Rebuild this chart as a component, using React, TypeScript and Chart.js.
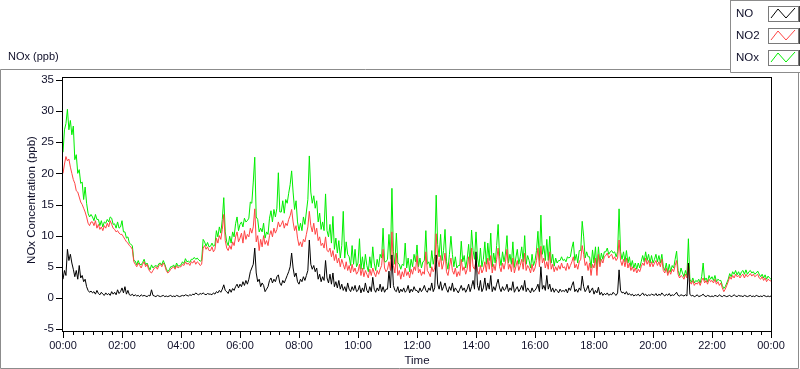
import React, { useEffect, useRef } from "react";
import { Chart, registerables } from "chart.js";

Chart.register(...registerables);

// 3-minute samples, 00:00 .. 24:00 (20 per hour)
const stepMinutes = 3;

const NO_ppb = [
  3.0, 4.4, 3.6, 7.8, 6.0, 7.0, 5.6, 4.6, 3.4, 4.4, 3.0, 5.2, 3.2, 3.6, 2.6, 3.0, 1.8, 1.2, 0.9, 1.1,
  0.8, 1.0, 0.6, 1.2, 0.7, 0.5, 0.9, 0.6, 0.4, 0.8, 0.5, 0.7, 0.4, 1.0, 0.6, 0.9, 0.5, 1.3, 0.7, 1.0,
  1.6, 0.8, 1.8, 0.6, 1.2, 0.5, 0.4, 0.6, 0.3, 0.5, 0.3, 0.4, 0.2, 0.5, 0.3, 0.4, 0.3, 0.2, 0.4, 0.3,
  1.3, 0.4, 0.3, 0.2, 0.4, 0.3, 0.2, 0.3, 0.4, 0.2, 0.3, 0.2, 0.3, 0.4, 0.2, 0.3, 0.2, 0.4, 0.3, 0.2,
  0.3, 0.4, 0.3, 0.5, 0.4, 0.3, 0.5, 0.4, 0.6, 0.5, 0.8, 0.6, 0.5, 0.7, 0.6, 0.8, 0.6, 0.5, 0.7, 0.6,
  0.6, 0.5, 0.8, 0.6, 1.0, 0.8, 1.2, 0.9, 1.4, 2.1, 1.2, 1.0, 0.7, 1.4, 0.9, 1.5, 1.2, 1.8, 2.2, 1.6,
  2.2, 1.8, 2.6, 2.0, 2.8, 2.2, 3.0, 4.2, 4.8, 5.4, 8.0, 4.0, 2.6, 3.0, 1.8, 2.4, 2.0, 1.0, 1.4, 1.8,
  2.8, 3.2, 2.4, 3.0, 2.6, 3.4, 3.7, 2.4, 2.0, 2.8, 2.4, 3.0, 3.6, 4.2, 5.0, 7.2, 4.8, 3.4, 4.0, 2.6,
  2.2, 3.0, 2.6, 3.4, 2.8, 3.6, 4.4, 9.3, 5.4, 4.6, 5.2, 4.2, 4.8, 3.0, 3.8, 2.6, 3.4, 2.8, 6.0, 3.2,
  2.4, 3.8, 2.2, 4.0, 1.8, 2.6, 1.6, 2.8, 1.4, 2.2, 1.2, 1.8, 1.0, 2.4, 1.4, 1.0, 1.8, 1.2, 2.0, 1.0,
  1.2, 2.0, 0.8, 1.6, 1.0, 2.4, 1.2, 0.8, 1.8, 1.0, 3.3, 1.4, 0.9, 1.6, 1.1, 2.2, 1.0, 1.8, 0.9, 1.4,
  1.4, 4.3, 1.6, 6.9, 2.0, 1.2, 1.0, 1.8, 0.8, 1.4, 1.0, 1.6, 0.9, 1.2, 2.0, 0.8, 1.4, 1.0, 1.8, 1.2,
  1.2, 0.8, 1.6, 1.0, 1.4, 2.0, 1.2, 0.9, 1.6, 1.2, 2.4, 1.0, 1.6, 6.9, 2.2, 1.4, 2.6, 1.2, 1.8, 2.4,
  1.4, 0.9, 1.8, 1.2, 2.4, 1.0, 1.6, 1.2, 0.8, 1.4, 2.0, 1.2, 1.6, 0.9, 1.4, 2.2, 1.0, 1.8, 2.8, 1.4,
  7.4, 2.0, 1.2, 2.8, 1.0, 1.6, 3.2, 1.2, 2.4, 1.4, 3.6, 1.0, 1.8, 1.2, 2.2, 3.0, 1.6, 1.0, 1.8, 1.2,
  1.4, 2.2, 1.0, 1.6, 1.2, 2.6, 0.9, 1.4, 1.8, 1.0, 1.4, 2.0, 1.2, 2.8, 1.0, 1.6, 1.2, 0.8, 1.6, 1.0,
  1.2, 1.6, 2.2, 1.0, 5.0, 1.4, 2.0, 1.2, 3.6, 1.4, 2.2, 1.0, 1.6, 0.9, 1.4, 1.2, 0.8, 1.4, 1.0, 1.2,
  1.0, 1.4, 0.8, 1.6, 1.2, 2.0, 2.6, 1.0, 1.4, 0.9, 1.6, 1.2, 3.5, 1.8, 1.0, 1.4, 2.0, 0.8, 1.2, 1.6,
  0.6, 1.2, 0.8, 1.7, 0.5, 0.9, 0.4, 0.7, 0.5, 0.8, 0.4, 0.6, 0.5, 0.9, 0.6, 0.4, 0.8, 4.5, 1.2, 0.8,
  0.9, 0.6, 1.0, 0.5, 0.7, 0.4, 0.6, 0.3, 0.5, 0.4, 0.6, 0.3, 0.5, 0.8, 0.4, 0.6, 0.3, 0.5, 0.4, 0.6,
  0.5, 0.4, 0.7, 0.3, 0.6, 0.4, 0.8, 0.5, 0.3, 0.6, 0.4, 0.7, 0.3, 0.5, 0.4, 0.6, 0.9, 0.4, 0.3, 0.5,
  0.4, 0.3, 0.5, 0.3, 5.6, 0.6, 0.3, 0.4, 0.2, 0.3, 0.5, 0.2, 0.3, 0.4, 0.6, 0.3, 0.2, 0.4, 0.3, 0.2,
  0.3, 0.2, 0.4, 0.3, 0.2, 0.5, 0.3, 0.2, 0.4, 0.3, 0.2, 0.3, 0.4, 0.2, 0.3, 0.5, 0.3, 0.2, 0.4, 0.3,
  0.3, 0.2, 0.4, 0.3, 0.2, 0.3, 0.4, 0.2, 0.3, 0.2, 0.4, 0.3, 0.2, 0.3, 0.2, 0.4, 0.3, 0.2, 0.3, 0.2, 0.3,
];

const NO2_ppb = [
  20.0, 21.5, 22.7, 22.0, 22.3, 21.0, 20.0, 19.0, 18.4, 17.2, 17.0, 16.2, 15.4, 15.0, 14.4, 13.8, 13.0, 12.0, 11.6, 12.2,
  12.2, 11.6, 12.4, 11.2, 11.8, 11.0, 11.4, 10.8, 11.6, 11.2, 12.0, 11.4, 12.4, 11.8, 11.2, 11.0, 10.6, 10.8, 10.4, 10.2,
  10.2, 9.8, 9.4, 9.0, 8.8, 8.4, 8.2, 7.8, 5.8, 5.4, 5.0, 5.6, 5.2, 4.8, 5.4, 5.8, 5.0, 5.4, 4.6, 4.2,
  4.0, 4.4, 4.8, 5.0, 4.6, 5.2, 5.4, 5.0, 5.6, 5.2, 4.4, 4.0, 4.2, 4.6, 4.8, 5.0, 4.6, 5.2, 4.8, 5.0,
  5.0, 5.4, 5.2, 5.8, 5.4, 5.6, 5.2, 5.8, 5.6, 6.0, 5.4, 5.8, 5.6, 5.2, 5.4, 8.0, 8.4, 7.8, 8.2, 7.6,
  7.6, 8.2, 7.4, 7.8, 9.6, 8.8, 10.0, 9.4, 11.0, 13.4, 9.2, 8.0, 7.6, 8.4, 7.8, 9.0, 8.4, 9.8, 10.6, 9.0,
  9.6, 10.4, 8.8, 10.8, 9.4, 10.2, 9.8, 11.2, 10.4, 11.4, 14.3, 9.0, 10.0, 7.6, 9.4, 8.2, 10.0, 8.6, 9.2, 8.4,
  10.0, 10.8, 9.8, 11.2, 10.4, 11.0, 12.2, 11.4, 11.8, 12.4, 11.2, 12.0, 11.6, 12.6, 13.2, 14.2, 12.2, 10.8, 11.6, 9.6,
  8.4, 9.0, 8.2, 9.4, 9.0, 10.2, 11.4, 13.9, 11.6, 10.6, 12.0, 10.2, 11.2, 9.2, 9.8, 8.4, 8.8, 8.0, 9.8, 7.6,
  7.4, 8.0, 6.6, 7.6, 6.0, 7.0, 5.6, 6.4, 5.0, 6.2, 5.4, 4.6, 5.8, 4.4, 5.2, 4.0, 5.4, 4.2, 4.8, 3.8,
  4.2, 5.4, 3.6, 4.8, 3.4, 4.4, 3.8, 3.2, 4.6, 3.6, 4.8, 4.0, 3.4, 4.4, 3.8, 4.6, 5.2, 7.8, 4.8, 4.2,
  4.6, 5.8, 4.4, 10.6, 5.2, 4.0, 7.2, 3.6, 4.4, 3.0, 4.2, 3.4, 4.8, 3.6, 4.2, 3.2, 4.6, 3.8, 5.0, 4.4,
  6.8, 4.0, 4.6, 3.6, 4.2, 3.8, 7.4, 4.4, 4.0, 3.4, 5.0, 4.2, 4.8, 10.3, 6.2, 5.0, 6.8, 4.6, 5.6, 7.2,
  4.2, 3.6, 5.0, 6.4, 4.4, 3.8, 4.8, 3.4, 4.2, 3.6, 6.2, 4.4, 5.0, 3.8, 4.6, 6.6, 4.2, 8.0, 5.0, 4.6,
  6.0, 4.4, 3.8, 5.2, 4.0, 4.6, 5.8, 4.2, 6.4, 4.6, 6.8, 4.0, 5.4, 4.4, 6.2, 8.0, 5.0, 4.2, 5.6, 4.6,
  5.8, 7.8, 4.6, 5.4, 4.2, 6.4, 4.0, 5.0, 6.0, 4.4, 5.2, 6.2, 4.6, 7.2, 4.4, 5.2, 4.8, 4.0, 5.4, 4.2,
  4.8, 6.0, 8.0, 5.0, 8.3, 5.6, 6.4, 4.8, 5.8, 4.6, 7.4, 4.6, 5.4, 4.2, 5.0, 4.4, 5.2, 4.6, 5.6, 4.8,
  5.0, 4.4, 5.6, 4.6, 5.2, 5.8, 6.6, 4.8, 5.4, 4.6, 5.8, 6.2, 8.4, 7.0, 5.2, 5.8, 4.4, 5.6, 3.6, 5.4,
  4.8, 6.4, 3.6, 7.0, 5.0, 6.2, 5.6, 6.6, 6.8, 7.2, 6.4, 6.8, 7.0, 6.2, 6.6, 6.0, 6.4, 9.3, 6.0, 5.2,
  6.2, 5.0, 6.4, 4.8, 5.6, 4.4, 5.0, 4.2, 4.8, 4.0, 4.6, 4.2, 5.0, 5.6, 5.2, 6.4, 5.4, 6.0, 5.0, 5.8,
  5.0, 5.6, 6.0, 5.2, 5.8, 5.0, 6.2, 4.4, 4.0, 4.8, 3.6, 4.4, 3.8, 4.6, 4.2, 5.2, 6.0, 3.8, 3.2, 3.6,
  3.4, 3.0, 3.8, 3.2, 5.6, 2.6, 2.2, 2.8, 2.0, 2.4, 2.2, 2.6, 2.0, 2.8, 3.2, 2.4, 2.8, 2.2, 3.0, 2.6,
  2.8, 2.4, 3.0, 2.2, 2.6, 2.0, 2.4, 1.6, 1.0, 1.4, 2.0, 2.6, 3.4, 3.0, 3.6, 3.2, 3.8, 3.4, 3.6, 3.2,
  3.6, 3.8, 3.2, 3.8, 3.4, 3.6, 3.9, 3.5, 3.8, 3.4, 3.6, 3.8, 3.2, 3.0, 3.4, 2.8, 3.2, 2.6, 3.0, 2.8, 2.7,
];

const NOx_ppb = [
  23.4, 27.0, 28.0, 30.3, 27.0, 28.5, 26.2, 27.6, 22.2, 23.0, 20.0, 20.6, 18.4, 18.6, 15.8, 17.8, 15.2, 13.6, 13.0, 13.4,
  13.0, 12.4, 13.4, 12.6, 12.6, 11.6, 12.4, 11.4, 12.2, 12.0, 12.6, 12.2, 13.0, 12.8, 11.8, 11.9, 11.2, 12.2, 11.2, 11.4,
  12.4, 10.6, 10.6, 9.6, 9.8, 8.8, 8.6, 8.4, 6.0, 5.9, 5.3, 6.0, 5.4, 5.3, 5.7, 6.2, 5.3, 5.6, 5.0, 4.5,
  5.3, 4.8, 5.1, 5.2, 5.0, 5.5, 5.6, 5.3, 6.0, 5.4, 4.7, 4.2, 4.5, 5.0, 5.0, 5.3, 4.8, 5.6, 5.1, 5.2,
  5.3, 5.8, 5.5, 6.3, 5.8, 5.9, 5.7, 6.2, 6.2, 6.5, 6.2, 6.4, 6.1, 5.9, 6.0, 9.4, 9.0, 8.3, 8.9, 8.2,
  8.3, 8.8, 8.3, 8.5, 10.8, 9.8, 11.4, 10.4, 12.6, 16.1, 10.6, 9.0, 8.4, 9.9, 8.8, 10.6, 9.8, 11.9, 13.0, 10.8,
  11.8, 12.2, 11.4, 12.8, 12.2, 12.4, 12.8, 15.4, 15.2, 18.6, 22.6, 13.0, 12.6, 10.6, 11.2, 10.6, 12.0, 9.6, 10.6, 10.2,
  12.8, 14.0, 12.2, 14.2, 13.0, 14.4, 20.1, 13.8, 13.8, 15.6, 13.6, 15.8, 15.2, 16.8, 18.2, 20.4, 17.0, 14.2, 15.6, 12.2,
  10.8, 12.0, 10.8, 13.0, 11.8, 13.8, 15.8, 22.8, 17.0, 15.2, 16.4, 14.4, 15.6, 12.2, 13.6, 11.0, 12.2, 10.8, 16.7, 10.8,
  9.8, 11.8, 8.8, 13.1, 7.8, 9.6, 7.2, 9.2, 6.4, 8.4, 13.9, 6.4, 9.0, 7.0, 6.6, 5.2, 8.4, 5.4, 7.8, 5.0,
  5.6, 9.5, 4.6, 6.6, 4.6, 7.0, 5.2, 4.2, 6.6, 4.8, 8.2, 5.6, 4.4, 6.2, 5.0, 7.0, 6.4, 11.2, 5.8, 5.8,
  6.2, 10.2, 6.2, 17.6, 7.4, 5.4, 10.4, 5.6, 5.4, 4.6, 5.4, 5.2, 8.8, 4.8, 6.4, 4.2, 6.2, 5.0, 7.0, 5.8,
  8.5, 5.0, 6.4, 4.8, 5.8, 6.0, 10.8, 5.4, 5.8, 4.8, 7.6, 5.4, 6.6, 16.5, 8.6, 6.6, 10.2, 6.0, 7.6, 11.0,
  5.8, 4.6, 7.0, 9.9, 7.0, 5.0, 6.6, 4.8, 5.2, 5.2, 9.1, 5.8, 6.8, 4.8, 6.2, 8.6, 5.4, 10.9, 7.6, 6.2,
  10.6, 6.4, 5.0, 8.0, 5.0, 6.2, 9.0, 5.4, 8.8, 6.0, 10.4, 5.0, 7.2, 5.6, 8.4, 11.8, 6.6, 5.2, 7.4, 5.8,
  7.2, 10.0, 5.6, 7.0, 5.4, 9.0, 4.9, 6.4, 7.8, 5.4, 6.6, 8.2, 5.8, 10.0, 5.4, 6.8, 6.0, 4.8, 7.0, 5.2,
  6.0, 7.6, 10.7, 6.0, 13.3, 7.0, 8.4, 6.0, 9.4, 6.0, 9.9, 5.6, 7.0, 5.1, 6.4, 5.6, 6.0, 6.0, 6.6, 6.0,
  6.2, 5.8, 6.6, 6.4, 6.6, 8.0, 9.0, 6.0, 7.0, 5.6, 7.6, 7.6, 12.3, 9.8, 6.4, 7.4, 6.6, 6.6, 4.8, 7.7,
  5.6, 8.2, 4.6, 8.2, 5.6, 7.2, 6.2, 7.4, 7.4, 8.0, 7.0, 7.4, 7.6, 7.2, 7.4, 6.6, 7.4, 14.3, 7.4, 6.2,
  7.4, 5.8, 7.6, 5.6, 6.6, 5.0, 6.0, 4.8, 5.6, 4.6, 5.6, 4.8, 5.8, 6.8, 5.8, 7.4, 6.0, 7.0, 5.6, 6.8,
  5.6, 6.2, 7.0, 5.8, 6.8, 5.6, 7.0, 5.0, 4.4, 5.6, 4.0, 5.4, 4.2, 5.2, 4.8, 6.2, 7.5, 4.4, 3.6, 4.8,
  4.0, 3.4, 4.4, 3.6, 9.5, 3.0, 2.5, 3.2, 2.4, 2.8, 2.6, 3.0, 2.4, 3.4, 5.6, 2.8, 3.2, 2.6, 3.6, 3.0,
  3.4, 2.8, 3.6, 2.6, 3.0, 2.8, 2.8, 2.0, 1.5, 1.8, 2.4, 3.0, 3.9, 3.4, 4.2, 3.8, 4.4, 3.7, 4.2, 3.6,
  4.2, 4.4, 3.8, 4.5, 3.8, 4.2, 4.4, 4.0, 4.2, 3.8, 4.0, 4.3, 3.8, 3.4, 3.8, 3.2, 3.7, 3.0, 3.5, 3.2, 3.0,
];

const seriesNames = ["NO", "NO2", "NOx"];
const seriesColors = ["#000000", "#ff4444", "#00ee00"];
const yTickValues = [-5, 0, 5, 10, 15, 20, 25, 30, 35];
const xMajorMinutes = [0, 120, 240, 360, 480, 600, 720, 840, 960, 1080, 1200, 1320, 1440];
const xTickLabels = ["00:00", "02:00", "04:00", "06:00", "08:00", "10:00", "12:00", "14:00", "16:00", "18:00", "20:00", "22:00", "00:00"];
const xMinorStepMinutes = 20;

const FONT = "'Liberation Sans', Arial, sans-serif";
const TEXT = "#10102a";

const toPoints = (arr: number[]) => arr.map((v, i) => ({ x: i * stepMinutes, y: v }));

const decorPlugin = {
  id: "labviewDecor",
  beforeDraw(chart: any) {
    const ctx = chart.ctx;
    ctx.save();
    ctx.fillStyle = "#ffffff";
    ctx.fillRect(0, 0, chart.width, chart.height);
    ctx.strokeStyle = "#8c8c8c";
    ctx.lineWidth = 1;
    ctx.beginPath();
    ctx.moveTo(0.5, 368.5);
    ctx.lineTo(0.5, 69.5);
    ctx.lineTo(730.5, 69.5);
    ctx.moveTo(798.5, 72.5);
    ctx.lineTo(798.5, 368.5);
    ctx.lineTo(0.5, 368.5);
    ctx.stroke();
    ctx.fillStyle = TEXT;
    ctx.font = `11px ${FONT}`;
    ctx.textAlign = "left";
    ctx.textBaseline = "middle";
    ctx.fillText("NOx (ppb)", 8, 57);
    ctx.restore();
  },
  afterDraw(chart: any) {
    const ctx = chart.ctx;
    const a = chart.chartArea;
    const xs = chart.scales.x;
    const ys = chart.scales.y;
    ctx.save();
    ctx.strokeStyle = "#000";
    ctx.lineWidth = 1;
    ctx.strokeRect(Math.round(a.left) - 0.5, Math.round(a.top) - 0.5, Math.round(a.right - a.left) + 1, Math.round(a.bottom - a.top) + 1);
    ctx.beginPath();
    yTickValues.forEach((v) => {
      const y = Math.round(ys.getPixelForValue(v)) + 0.5;
      ctx.moveTo(a.left - 7, y);
      ctx.lineTo(a.left, y);
    });
    for (let m = 0; m <= 1440; m += xMinorStepMinutes) {
      const x = Math.round(xs.getPixelForValue(m)) + 0.5;
      const len = m % 120 === 0 ? 7 : 4;
      ctx.moveTo(x, a.bottom);
      ctx.lineTo(x, a.bottom + len);
    }
    ctx.stroke();
    ctx.fillStyle = TEXT;
    ctx.font = `11.5px ${FONT}`;
    ctx.textAlign = "center";
    ctx.textBaseline = "middle";
    ctx.fillText("Time", (a.left + a.right) / 2, 361);
    ctx.save();
    ctx.translate(32, 200);
    ctx.rotate(-Math.PI / 2);
    ctx.fillText("NOx Concentration (ppb)", 0, 0);
    ctx.restore();
    // legend
    ctx.fillStyle = "#ffffff";
    ctx.fillRect(731, 0, 69, 72);
    ctx.strokeStyle = "#8c8c8c";
    ctx.beginPath();
    ctx.moveTo(730.5, 0);
    ctx.lineTo(730.5, 72.5);
    ctx.lineTo(800, 72.5);
    ctx.moveTo(730.5, 0.5);
    ctx.lineTo(800, 0.5);
    ctx.stroke();
    const rowTop = [6, 28, 50];
    seriesNames.forEach((name, i) => {
      const top = rowTop[i];
      ctx.fillStyle = TEXT;
      ctx.font = `11.5px ${FONT}`;
      ctx.textAlign = "left";
      ctx.textBaseline = "middle";
      ctx.fillText(name, 736, top + 8);
      ctx.strokeStyle = "#7a7a7a";
      ctx.strokeRect(768.5, top + 0.5, 30, 15);
      ctx.strokeStyle = "#404040";
      ctx.beginPath();
      ctx.moveTo(799.5, top);
      ctx.lineTo(799.5, top + 16);
      ctx.stroke();
      ctx.strokeStyle = seriesColors[i];
      ctx.beginPath();
      ctx.moveTo(771, top + 12);
      ctx.lineTo(778, top + 3);
      ctx.lineTo(786, top + 12);
      ctx.lineTo(795, top + 2);
      ctx.stroke();
    });
    ctx.restore();
  },
};

export default function App() {
  const ref = useRef<HTMLCanvasElement | null>(null);
  useEffect(() => {
    document.body.style.margin = "0";
    const canvas = ref.current!;
    const chart = new Chart(canvas, {
      type: "line",
      data: {
        datasets: [
          { label: seriesNames[0], data: toPoints(NO_ppb), borderColor: seriesColors[0], borderWidth: 1, pointRadius: 0, fill: false },
          { label: seriesNames[1], data: toPoints(NO2_ppb), borderColor: seriesColors[1], borderWidth: 1, pointRadius: 0, fill: false },
          { label: seriesNames[2], data: toPoints(NOx_ppb), borderColor: seriesColors[2], borderWidth: 1, pointRadius: 0, fill: false },
        ],
      },
      options: {
        responsive: false,
        animation: false,
        events: [],
        layout: { padding: { top: 78, right: 29, left: 0, bottom: 0 } },
        plugins: { legend: { display: false }, tooltip: { enabled: false }, title: { display: false } },
        elements: { line: { tension: 0 } },
        scales: {
          x: {
            type: "linear",
            min: 0,
            max: 1440,
            grid: { display: false, drawTicks: false, tickLength: 0 },
            border: { display: false },
            afterBuildTicks: (scale: any) => {
              scale.ticks = xMajorMinutes.map((v) => ({ value: v }));
            },
            afterFit: (scale: any) => {
              scale.height = 38;
            },
            ticks: {
              autoSkip: false,
              maxRotation: 0,
              padding: 8,
              color: TEXT,
              font: { family: FONT, size: 11 },
              callback: (v: any) => {
                const idx = xMajorMinutes.indexOf(Number(v));
                return idx >= 0 ? xTickLabels[idx] : "";
              },
            },
          },
          y: {
            type: "linear",
            min: -5.32,
            max: 35.32,
            grid: { display: false, drawTicks: false, tickLength: 0 },
            border: { display: false },
            afterBuildTicks: (scale: any) => {
              scale.ticks = yTickValues.map((v) => ({ value: v }));
            },
            afterFit: (scale: any) => {
              scale.width = 63;
            },
            ticks: {
              autoSkip: false,
              padding: 9,
              color: TEXT,
              font: { family: FONT, size: 11.5 },
              callback: (v: any) => String(v),
            },
          },
        },
      },
      plugins: [decorPlugin],
    });
    return () => chart.destroy();
  }, []);
  return (
    <div style={{ position: "absolute", left: 0, top: 0, width: 800, height: 369 }}>
      <canvas ref={ref} width={800} height={369} style={{ width: 800, height: 369, display: "block" }} />
    </div>
  );
}
